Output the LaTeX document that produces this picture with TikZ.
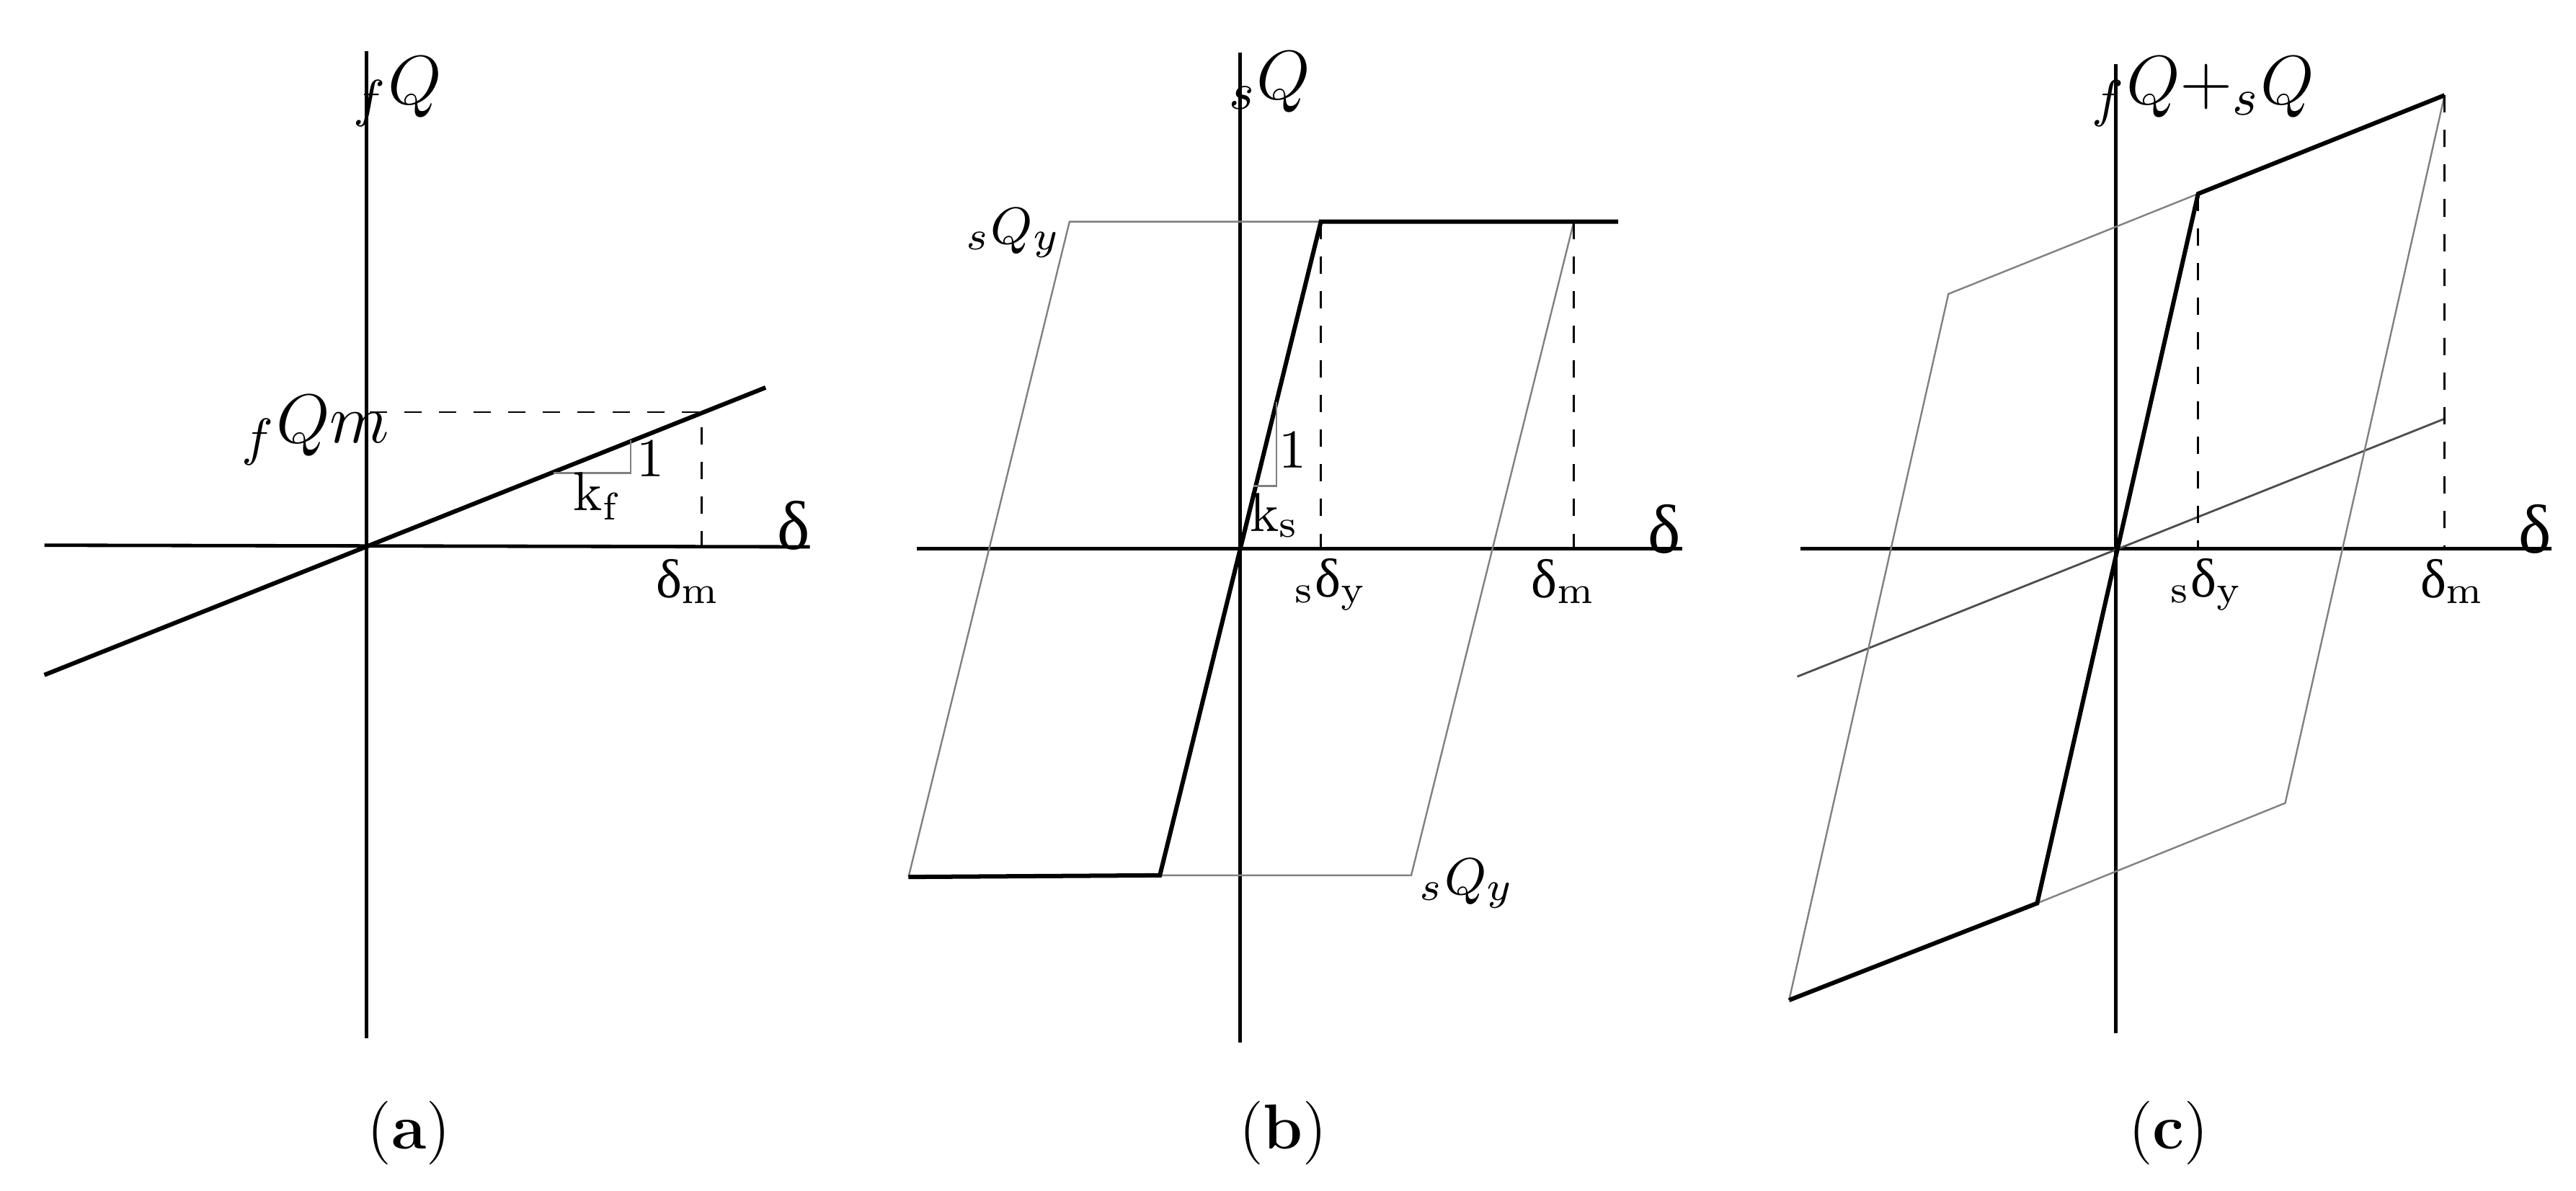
\documentclass[tikz,border=0pt]{standalone}
\usepackage{fontspec}
\newfontfamily\dv{Liberation Serif}
\newcommand{\dl}{{\dv δ}}
\begin{document}
\begin{tikzpicture}[x=0.01cm,y=-0.01cm,
 ax/.style={line width=0.6pt},
 thk/.style={line width=0.75pt},
 gr/.style={line width=0.3pt,draw=gray},
 thn/.style={line width=0.35pt,draw=black!70},
 dsh/.style={line width=0.35pt,dash pattern=on 3pt off 3pt},
 lb/.style={font=\fontsize{9.5}{10}\selectfont,inner sep=1pt},
 dlb/.style={font=\fontsize{12}{13}\selectfont,inner sep=1pt},
 ql/.style={font=\fontsize{13}{14}\selectfont,inner sep=1pt},
 qs/.style={font=\fontsize{9.5}{11}\selectfont,inner sep=1pt},
 captxt/.style={font=\fontsize{11}{12}\selectfont}]
\useasboundingbox (0,0) rectangle (1568,725);
% ---------- (a)
\draw[ax] (223,31) -- (223,632);
\draw[ax] (27,332) -- (493,333);
\coordinate (aL) at (27,411); \coordinate (aR) at (466,236);
\coordinate (aM) at (427,251);
\draw[thk] (aL) -- (aR);
\draw[dsh] (225,251) -- (aM) -- (427,332);
\draw[gr] (337,288) -- (384,288) -- (384,268);
\node[lb] at (396,279) {1};
\node[lb] at (363,302) {k$_\mathrm{f}$};
\node[ql] at (192,262) {$_f Q m$};
\node[dlb] at (483,320) {\dl};
\node[lb] at (419,354) {\dl$_\mathrm{m}$};
\node[ql] at (242,56) {$_f Q$};
\node[captxt] at (249,690) {(\textbf{a})};
% ---------- (b)
\draw[ax] (755,32) -- (755,635);
\draw[ax] (558,334) -- (1024,334);
\coordinate (b5) at (553,534); \coordinate (b2) at (706,533);
\coordinate (b3) at (804,135); \coordinate (b4) at (985,135);
\coordinate (b6) at (859,533);
\coordinate (b7) at (651,135); \coordinate (b8) at (958,135);
\draw[gr] (b5) -- (b7) -- (b3);
\draw[gr] (b2) -- (b6) -- (b8);
\draw[thk] (b5) -- (b2) -- (b3) -- (b4);
\draw[dsh] (b3) -- (804,334);
\draw[dsh] (b8) -- (958,334);
\draw[gr] (763,296) -- (777,296) -- (777,245);
\node[lb] at (787,274) {1};
\node[lb] at (776,314) {k$_\mathrm{s}$};
\node[qs,anchor=east] at (650,142) {$_s Q_y$};
\node[qs,anchor=west] at (860,538) {$_s Q_y$};
\node[dlb] at (1013,322) {\dl};
\node[lb] at (810,356) {$_\mathrm{s}$\dl$_\mathrm{y}$};
\node[lb] at (952,354) {\dl$_\mathrm{m}$};
\node[ql] at (773,50) {$_s Q$};
\node[captxt] at (781,690) {(\textbf{b})};
% ---------- (c)
\draw[ax] (1288,39) -- (1288,629);
\draw[ax] (1096,334) -- (1553,334);
\coordinate (c1) at (1089,609); \coordinate (c2) at (1240,550);
\coordinate (c3) at (1338,118); \coordinate (c4) at (1488,58);
\coordinate (c5) at (1186,179); \coordinate (c6) at (1391,489);
\draw[thn] (1094,412) -- (1488,255);
\draw[gr] (c1) -- (c5) -- (c3);
\draw[gr] (c2) -- (c6) -- (c4);
\draw[thk] (c1) -- (c2) -- (c3) -- (c4);
\draw[dsh] (c3) -- (1338,334);
\draw[dsh] (c4) -- (1488,334);
\node[ql] at (1341,56) {$_f Q{+}_s Q$};
\node[dlb] at (1543,322) {\dl};
\node[lb] at (1343,356) {$_\mathrm{s}$\dl$_\mathrm{y}$};
\node[lb] at (1493,354) {\dl$_\mathrm{m}$};
\node[captxt] at (1320,690) {(\textbf{c})};
\end{tikzpicture}
\end{document}
